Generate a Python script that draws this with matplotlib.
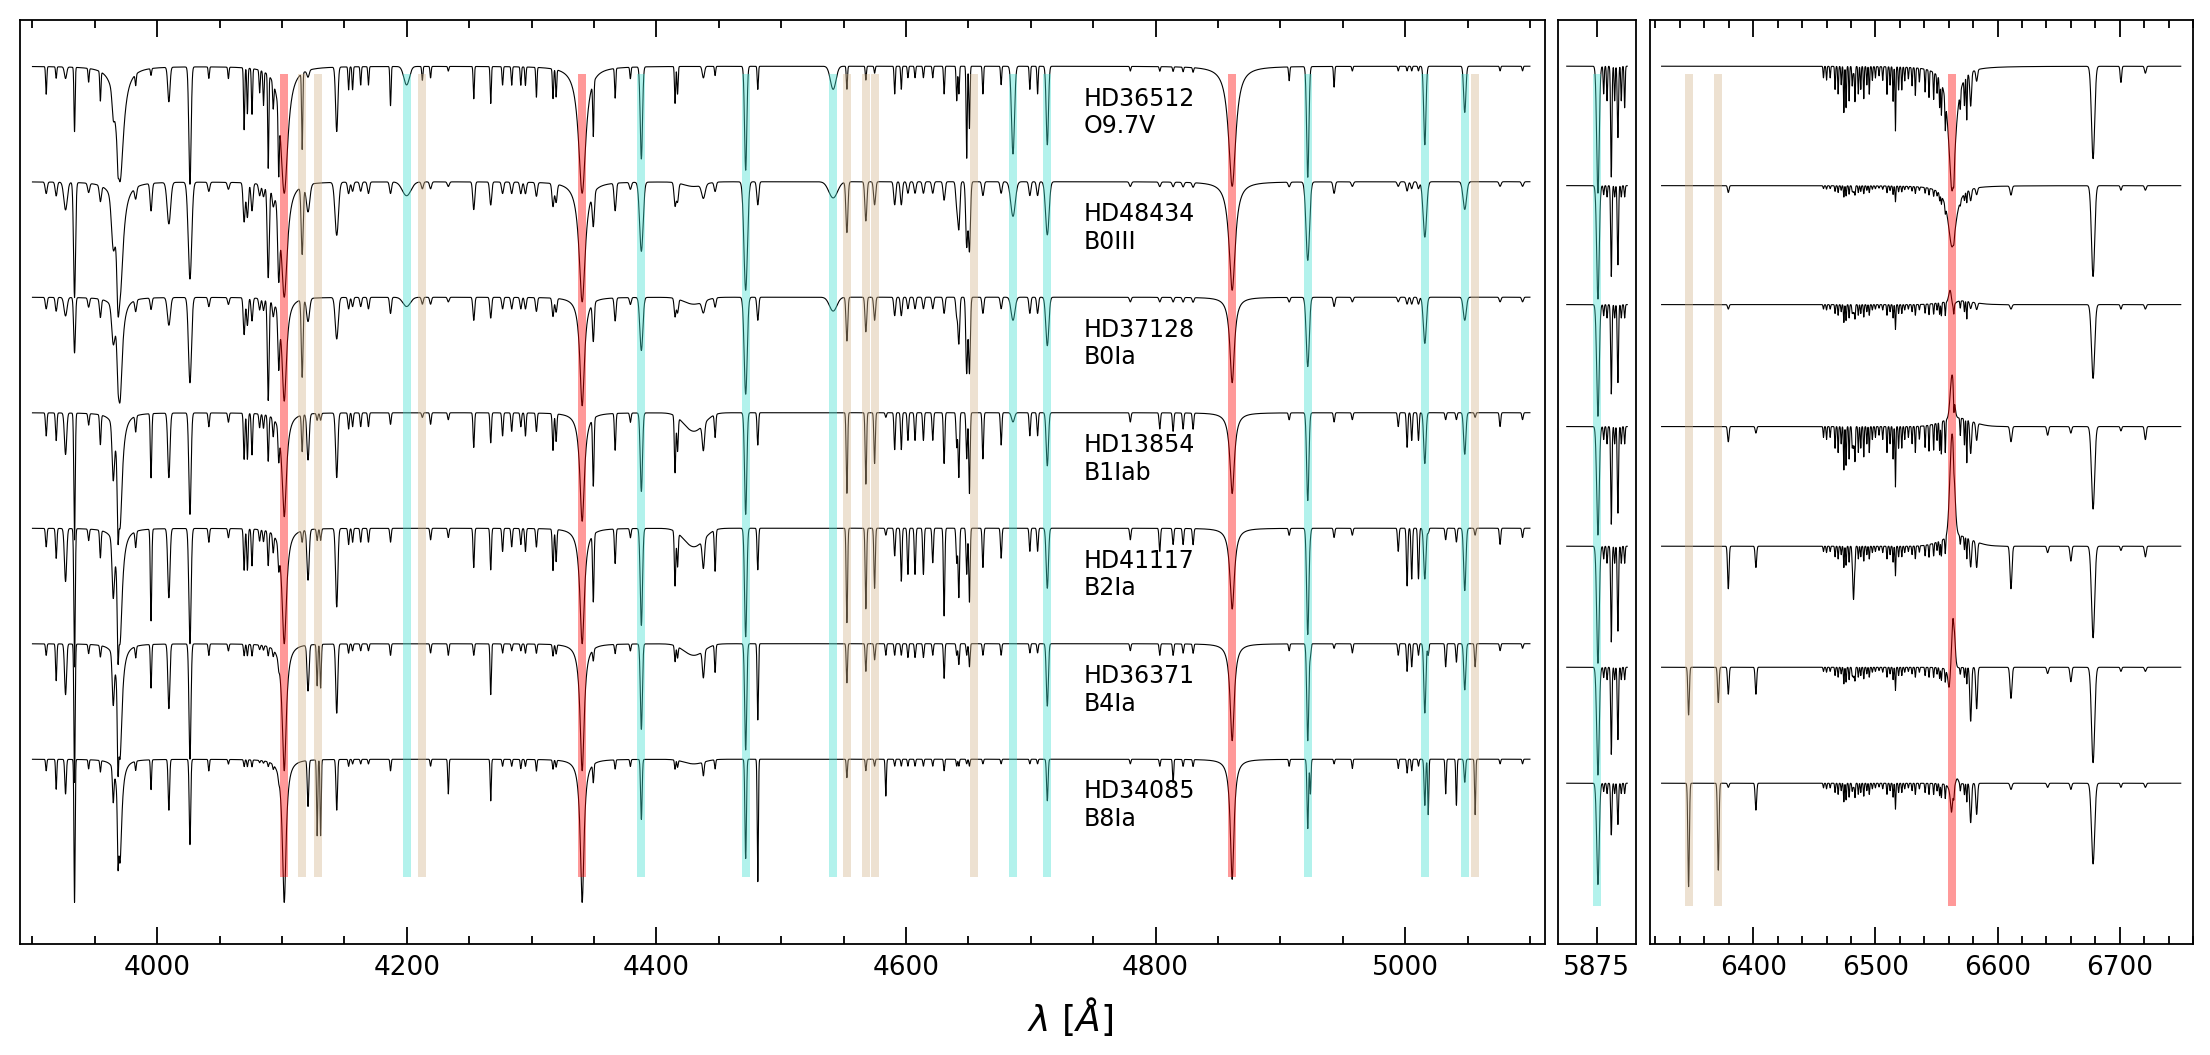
import numpy as np
import matplotlib.pyplot as plt
from matplotlib.ticker import MultipleLocator, FixedLocator, NullLocator

# stars, top to bottom
stars = ['HD36512', 'HD48434', 'HD37128', 'HD13854', 'HD41117', 'HD36371', 'HD34085']
sptypes = ['O9.7V', 'B0III', 'B0Ia', 'B1Iab', 'B2Ia', 'B4Ia', 'B8Ia']
offsets = [3.0, 2.5, 2.0, 1.5, 1.0, 0.5, 0.0]
red_cont = [1.0, 0.983, 0.968, 0.94, 0.922, 0.898, 0.896]

# widths per star (Angstrom)
balmer_w = [3.5, 3.0, 2.2, 2.2, 2.2, 2.0, 1.8]
he_sigma = [0.9, 1.4, 1.2, 0.9, 0.9, 0.8, 0.6]
metal_sigma = [0.45, 0.8, 0.7, 0.55, 0.55, 0.5, 0.45]

# Balmer lines in the blue panel
balmer_wl = [3970.07, 4101.74, 4340.47, 4861.33]
balmer_depth = [
    [0.50, 0.50, 0.45, 0.50, 0.50, 0.50, 0.45],
    [0.55, 0.50, 0.45, 0.45, 0.50, 0.55, 0.62],
    [0.55, 0.52, 0.47, 0.47, 0.50, 0.55, 0.62],
    [0.52, 0.47, 0.37, 0.35, 0.35, 0.42, 0.52],
]

# helium lines in the blue panel
he_wl = [3926.5, 3964.7, 4009.3, 4026.2, 4120.8, 4143.8, 4199.8, 4387.9, 4437.6,
         4471.5, 4541.6, 4685.7, 4713.2, 4921.9, 5015.7, 5047.7]
he_wfac = [1, 1, 1, 1, 1, 1, 2.5, 1, 1, 1, 2.5, 1.3, 1, 1, 1, 1]
he_depth = [
    [0.05, 0.12, 0.08, 0.18, 0.23, 0.22, 0.15],
    [0.10, 0.20, 0.15, 0.24, 0.25, 0.22, 0.15],
    [0.15, 0.18, 0.12, 0.28, 0.30, 0.28, 0.22],
    [0.51, 0.42, 0.37, 0.44, 0.50, 0.50, 0.37],
    [0.03, 0.12, 0.10, 0.20, 0.22, 0.20, 0.20],
    [0.28, 0.23, 0.18, 0.28, 0.34, 0.30, 0.22],
    [0.08, 0.06, 0.04, 0.00, 0.00, 0.00, 0.00],
    [0.40, 0.30, 0.23, 0.34, 0.42, 0.37, 0.26],
    [0.05, 0.06, 0.05, 0.12, 0.13, 0.12, 0.06],
    [0.45, 0.47, 0.42, 0.44, 0.47, 0.46, 0.43],
    [0.10, 0.07, 0.06, 0.00, 0.00, 0.00, 0.00],
    [0.38, 0.15, 0.10, 0.04, 0.00, 0.00, 0.00],
    [0.34, 0.23, 0.21, 0.23, 0.26, 0.27, 0.18],
    [0.48, 0.34, 0.30, 0.38, 0.46, 0.42, 0.30],
    [0.34, 0.24, 0.20, 0.22, 0.22, 0.30, 0.20],
    [0.20, 0.12, 0.10, 0.18, 0.27, 0.20, 0.10],
]

# metal / interstellar lines in the blue panel
metal_wl = [3911.0, 3919.0, 3933.7, 3945.0, 3954.4, 3968.5, 3982.7, 3995.0, 4041.3,
            4057.0, 4069.6, 4072.2, 4075.9, 4082.0, 4085.1, 4088.9, 4092.9, 4097.3,
            4116.1, 4128.1, 4130.9, 4153.3, 4156.5, 4163.0, 4169.2, 4186.9, 4212.4,
            4219.0, 4233.2, 4253.6, 4267.2, 4276.7, 4284.0, 4291.3, 4295.0, 4303.8,
            4317.1, 4319.6, 4349.4, 4366.9, 4379.1, 4414.9, 4416.9, 4447.0, 4481.2,
            4552.6, 4567.8, 4574.8, 4583.8, 4590.9, 4596.2, 4601.5, 4607.2, 4613.9,
            4621.4, 4630.5, 4640.6, 4642.3, 4648.6, 4650.8, 4661.6, 4676.2, 4699.2,
            4705.4, 4779.7, 4803.3, 4814.0, 4822.0, 4830.0, 4907.0, 4924.0, 4943.0,
            4957.6, 4994.4, 5001.5, 5005.2, 5010.6, 5018.4, 5032.4, 5041.0, 5056.0,
            5076.0, 5094.0]
metal_depth = [
    [0.12, 0.05, 0.05, 0.10, 0.08, 0.05, 0.05],
    [0.05, 0.06, 0.06, 0.12, 0.13, 0.16, 0.13],
    [0.28, 0.50, 0.24, 0.55, 0.60, 0.60, 0.62],
    [0.06, 0.04, 0.04, 0.05, 0.05, 0.04, 0.04],
    [0.13, 0.07, 0.08, 0.13, 0.12, 0.05, 0.05],
    [0.10, 0.30, 0.15, 0.35, 0.38, 0.38, 0.30],
    [0.05, 0.05, 0.05, 0.07, 0.07, 0.05, 0.04],
    [0.03, 0.12, 0.05, 0.28, 0.40, 0.19, 0.13],
    [0.05, 0.04, 0.04, 0.06, 0.06, 0.05, 0.05],
    [0.05, 0.03, 0.03, 0.04, 0.04, 0.03, 0.02],
    [0.27, 0.17, 0.16, 0.20, 0.18, 0.05, 0.03],
    [0.20, 0.15, 0.12, 0.20, 0.18, 0.05, 0.03],
    [0.20, 0.12, 0.10, 0.18, 0.16, 0.05, 0.03],
    [0.10, 0.05, 0.05, 0.06, 0.05, 0.02, 0.01],
    [0.15, 0.05, 0.05, 0.06, 0.05, 0.02, 0.01],
    [0.42, 0.40, 0.44, 0.20, 0.15, 0.04, 0.02],
    [0.12, 0.06, 0.06, 0.08, 0.08, 0.03, 0.02],
    [0.34, 0.33, 0.25, 0.14, 0.10, 0.03, 0.02],
    [0.34, 0.30, 0.34, 0.16, 0.05, 0.00, 0.00],
    [0.00, 0.00, 0.00, 0.03, 0.05, 0.18, 0.33],
    [0.00, 0.00, 0.00, 0.03, 0.05, 0.19, 0.33],
    [0.10, 0.05, 0.05, 0.07, 0.07, 0.04, 0.03],
    [0.10, 0.04, 0.04, 0.06, 0.06, 0.03, 0.02],
    [0.08, 0.04, 0.04, 0.06, 0.06, 0.03, 0.02],
    [0.08, 0.05, 0.05, 0.06, 0.06, 0.03, 0.02],
    [0.17, 0.05, 0.07, 0.05, 0.06, 0.05, 0.05],
    [0.06, 0.03, 0.03, 0.02, 0.00, 0.00, 0.00],
    [0.05, 0.03, 0.03, 0.05, 0.05, 0.04, 0.03],
    [0.02, 0.02, 0.02, 0.03, 0.04, 0.05, 0.15],
    [0.14, 0.12, 0.10, 0.15, 0.17, 0.05, 0.00],
    [0.16, 0.10, 0.09, 0.13, 0.18, 0.22, 0.18],
    [0.08, 0.05, 0.05, 0.10, 0.10, 0.04, 0.03],
    [0.08, 0.05, 0.05, 0.08, 0.08, 0.03, 0.03],
    [0.08, 0.05, 0.05, 0.06, 0.07, 0.03, 0.04],
    [0.08, 0.05, 0.05, 0.10, 0.10, 0.04, 0.03],
    [0.13, 0.06, 0.06, 0.08, 0.08, 0.04, 0.05],
    [0.13, 0.10, 0.08, 0.16, 0.18, 0.05, 0.04],
    [0.12, 0.08, 0.06, 0.12, 0.14, 0.04, 0.03],
    [0.25, 0.15, 0.17, 0.30, 0.30, 0.05, 0.08],
    [0.13, 0.12, 0.10, 0.16, 0.15, 0.04, 0.04],
    [0.05, 0.03, 0.03, 0.04, 0.04, 0.03, 0.03],
    [0.16, 0.10, 0.08, 0.25, 0.24, 0.07, 0.04],
    [0.12, 0.08, 0.06, 0.15, 0.15, 0.05, 0.03],
    [0.04, 0.04, 0.04, 0.10, 0.18, 0.12, 0.04],
    [0.10, 0.10, 0.10, 0.14, 0.18, 0.33, 0.53],
    [0.10, 0.22, 0.19, 0.35, 0.41, 0.17, 0.08],
    [0.06, 0.17, 0.15, 0.31, 0.35, 0.12, 0.05],
    [0.03, 0.10, 0.10, 0.22, 0.26, 0.07, 0.03],
    [0.00, 0.00, 0.00, 0.02, 0.03, 0.05, 0.16],
    [0.12, 0.10, 0.08, 0.16, 0.12, 0.05, 0.03],
    [0.10, 0.10, 0.08, 0.16, 0.23, 0.05, 0.03],
    [0.05, 0.05, 0.05, 0.12, 0.20, 0.06, 0.03],
    [0.05, 0.05, 0.05, 0.12, 0.20, 0.06, 0.03],
    [0.05, 0.05, 0.05, 0.12, 0.20, 0.06, 0.03],
    [0.05, 0.05, 0.05, 0.12, 0.15, 0.05, 0.03],
    [0.12, 0.08, 0.07, 0.22, 0.38, 0.15, 0.05],
    [0.15, 0.10, 0.08, 0.15, 0.15, 0.05, 0.03],
    [0.12, 0.20, 0.20, 0.28, 0.30, 0.09, 0.03],
    [0.40, 0.28, 0.33, 0.20, 0.20, 0.05, 0.02],
    [0.27, 0.30, 0.33, 0.35, 0.32, 0.10, 0.03],
    [0.12, 0.06, 0.07, 0.20, 0.17, 0.05, 0.02],
    [0.08, 0.05, 0.05, 0.14, 0.13, 0.05, 0.02],
    [0.10, 0.06, 0.07, 0.10, 0.10, 0.04, 0.02],
    [0.12, 0.06, 0.07, 0.10, 0.10, 0.04, 0.02],
    [0.02, 0.02, 0.02, 0.04, 0.05, 0.03, 0.02],
    [0.02, 0.02, 0.02, 0.07, 0.10, 0.05, 0.03],
    [0.02, 0.02, 0.02, 0.08, 0.07, 0.05, 0.10],
    [0.02, 0.02, 0.02, 0.07, 0.07, 0.04, 0.03],
    [0.02, 0.02, 0.02, 0.07, 0.07, 0.04, 0.03],
    [0.06, 0.02, 0.02, 0.03, 0.03, 0.03, 0.03],
    [0.00, 0.00, 0.00, 0.00, 0.02, 0.05, 0.15],
    [0.09, 0.05, 0.04, 0.04, 0.04, 0.02, 0.02],
    [0.02, 0.02, 0.02, 0.03, 0.03, 0.04, 0.04],
    [0.02, 0.02, 0.02, 0.06, 0.10, 0.05, 0.04],
    [0.02, 0.04, 0.03, 0.15, 0.25, 0.12, 0.06],
    [0.02, 0.03, 0.03, 0.12, 0.22, 0.10, 0.05],
    [0.02, 0.03, 0.03, 0.12, 0.22, 0.05, 0.03],
    [0.00, 0.00, 0.00, 0.00, 0.02, 0.05, 0.24],
    [0.00, 0.00, 0.00, 0.03, 0.05, 0.10, 0.15],
    [0.00, 0.00, 0.00, 0.03, 0.06, 0.08, 0.20],
    [0.00, 0.00, 0.00, 0.02, 0.03, 0.10, 0.24],
    [0.02, 0.02, 0.02, 0.06, 0.07, 0.03, 0.02],
    [0.02, 0.02, 0.02, 0.03, 0.04, 0.02, 0.02],
]

# diffuse interstellar band 4430
dib_wl = 4430.0
dib_sigma = 8.0
dib_depth = [0.0, 0.02, 0.03, 0.08, 0.08, 0.05, 0.02]

# He I 5876 panel: He I, interstellar Na D and telluric lines
mid_wl = [5876.0, 5880.6, 5883.3, 5886.7, 5889.4, 5892.0, 5894.7, 5897.4]
mid_sig = [1.0, 0.4, 0.4, 0.5, 0.4, 0.5, 0.4, 0.4]
mid_depth = [
    [0.55, 0.50, 0.50, 0.50, 0.55, 0.52, 0.49],
    [0.12, 0.04, 0.05, 0.06, 0.06, 0.05, 0.04],
    [0.15, 0.05, 0.06, 0.08, 0.08, 0.06, 0.05],
    [0.48, 0.40, 0.40, 0.45, 0.45, 0.42, 0.25],
    [0.15, 0.05, 0.06, 0.08, 0.08, 0.06, 0.05],
    [0.31, 0.35, 0.35, 0.40, 0.40, 0.35, 0.20],
    [0.15, 0.05, 0.06, 0.08, 0.08, 0.06, 0.05],
    [0.18, 0.05, 0.06, 0.08, 0.08, 0.06, 0.05],
]

# red panel lines
red_wl = [6347.1, 6371.4, 6379.6, 6402.2, 6482.1, 6578.0, 6582.9, 6611.0, 6641.0,
          6660.0, 6678.2, 6701.0, 6721.0]
red_sig = [0.6, 0.6, 0.6, 0.6, 0.6, 0.7, 0.7, 0.8, 0.7, 0.7, 1.3, 0.6, 0.7]
red_depth = [
    [0.00, 0.00, 0.00, 0.00, 0.00, 0.23, 0.50],
    [0.00, 0.00, 0.00, 0.00, 0.00, 0.17, 0.42],
    [0.00, 0.03, 0.02, 0.07, 0.20, 0.13, 0.02],
    [0.00, 0.00, 0.00, 0.03, 0.10, 0.13, 0.13],
    [0.03, 0.03, 0.04, 0.10, 0.25, 0.05, 0.02],
    [0.15, 0.05, 0.03, 0.15, 0.13, 0.26, 0.19],
    [0.05, 0.03, 0.03, 0.08, 0.12, 0.20, 0.15],
    [0.00, 0.04, 0.02, 0.07, 0.20, 0.15, 0.03],
    [0.00, 0.00, 0.00, 0.04, 0.03, 0.03, 0.02],
    [0.00, 0.00, 0.00, 0.03, 0.07, 0.07, 0.03],
    [0.40, 0.40, 0.33, 0.38, 0.43, 0.46, 0.39],
    [0.07, 0.02, 0.02, 0.02, 0.02, 0.02, 0.02],
    [0.03, 0.02, 0.02, 0.06, 0.05, 0.02, 0.02],
]

# telluric water lines near H-alpha
tell_wl = [6457.5, 6460.0, 6463.0, 6467.0, 6469.5, 6472.0, 6474.2, 6476.0, 6478.5,
           6481.0, 6483.3, 6486.0, 6488.0, 6490.5, 6493.0, 6495.0, 6497.5, 6500.0,
           6503.0, 6506.0, 6509.5, 6512.0, 6514.5, 6516.4, 6519.0, 6521.6, 6524.0,
           6527.0, 6530.0, 6532.7, 6536.0, 6540.7, 6543.9, 6547.7, 6550.5, 6552.6,
           6554.0, 6557.2, 6564.2, 6569.5, 6572.9, 6574.8]
tell_str = [0.05, 0.06, 0.05, 0.10, 0.12, 0.08, 0.20, 0.18, 0.15,
            0.08, 0.15, 0.12, 0.10, 0.14, 0.08, 0.12, 0.06, 0.05,
            0.04, 0.06, 0.12, 0.08, 0.15, 0.28, 0.10, 0.10, 0.06,
            0.05, 0.08, 0.12, 0.06, 0.10, 0.12, 0.12, 0.08, 0.13,
            0.15, 0.15, 0.10, 0.08, 0.12, 0.20]
tell_scale = [1.0, 0.25, 0.4, 1.0, 0.5, 0.4, 0.45]

# H-alpha: absorption and emission components per star
ha_wl = 6562.8
ha_abs = [0.54, 0.27, 0.04, 0.0, 0.0, 0.10, 0.14]
ha_abs_shift = [0.0, 0.0, 0.0, 0.0, 0.0, -2.5, -0.5]
ha_abs_w = [3.5, 4.0, 2.0, 2.0, 2.0, 1.2, 1.2]
ha_em = [0.0, 0.0, 0.07, 0.20, 0.48, 0.26, 0.03]
ha_em_shift = [0.0, 0.0, -1.5, 0.0, 0.0, 1.0, 4.0]
ha_em_sigma = [1.0, 1.0, 1.2, 1.5, 1.8, 1.2, 1.2]
ha_wing = [0.0, 0.0, 0.02, 0.04, 0.05, 0.0, 0.0]

# highlighted lines
h_marks = [4101.74, 4340.47, 4861.33, 6562.8]
he_marks = [4199.8, 4387.9, 4471.5, 4541.6, 4685.7, 4713.2, 4921.9, 5015.7, 5047.7, 5875.6]
si_marks = [4116.1, 4128.5, 4212.4, 4552.6, 4567.8, 4574.8, 4654.3, 5056.0, 6347.1, 6371.4]


def gauss(x, c, s):
    return np.exp(-0.5 * ((x - c) / s) ** 2)


def lorentz(x, c, w):
    return w ** 2 / ((x - c) ** 2 + w ** 2)


def blue_spec(x, i):
    f = np.ones_like(x)
    for wl, d in zip(balmer_wl, balmer_depth):
        f *= 1 - d[i] * lorentz(x, wl, balmer_w[i])
    for wl, fac, d in zip(he_wl, he_wfac, he_depth):
        f *= 1 - d[i] * gauss(x, wl, he_sigma[i] * fac)
    for wl, d in zip(metal_wl, metal_depth):
        f *= 1 - d[i] * gauss(x, wl, metal_sigma[i])
    f *= 1 - dib_depth[i] * gauss(x, dib_wl, dib_sigma)
    return f


def mid_spec(x, i):
    f = np.ones_like(x)
    for wl, s, d in zip(mid_wl, mid_sig, mid_depth):
        f *= 1 - d[i] * gauss(x, wl, s)
    return f


def red_spec(x, i):
    f = np.ones_like(x)
    for wl, s, d in zip(red_wl, red_sig, red_depth):
        f *= 1 - d[i] * gauss(x, wl, s)
    for wl, st in zip(tell_wl, tell_str):
        f *= 1 - tell_scale[i] * st * gauss(x, wl, 0.35)
    f *= 1 - ha_abs[i] * lorentz(x, ha_wl + ha_abs_shift[i], ha_abs_w[i])
    f += ha_em[i] * gauss(x, ha_wl + ha_em_shift[i], ha_em_sigma[i])
    f += ha_wing[i] * gauss(x, ha_wl + 4, 12)
    return f


fig = plt.figure(figsize=(22.1, 10.55), dpi=100)
y0, h = 111 / 1055, 924 / 1055
ax1 = fig.add_axes([20 / 2210, y0, 1525 / 2210, h])
ax2 = fig.add_axes([1558 / 2210, y0, 78 / 2210, h])
ax3 = fig.add_axes([1650 / 2210, y0, 543 / 2210, h])

x1 = np.arange(3900, 5100, 0.08)
x2 = np.arange(5851, 5899.5, 0.08)
x3 = np.arange(6325, 6750, 0.08)

for i in range(len(stars)):
    ax1.plot(x1, blue_spec(x1, i) + offsets[i], color='k', lw=0.8, zorder=2)
    ax2.plot(x2, red_cont[i] * mid_spec(x2, i) + offsets[i], color='k', lw=0.8, zorder=2)
    ax3.plot(x3, red_cont[i] * red_spec(x3, i) + offsets[i], color='k', lw=0.8, zorder=2)
    ax1.text(4742, offsets[i] + 0.8, stars[i] + '\n' + sptypes[i],
             fontsize=17, ha='left', va='center')

# shaded line markers
band_top = 3.965
for ax, bottom in [(ax1, 0.49), (ax2, 0.365), (ax3, 0.365)]:
    lo, hi = ax.get_xlim()
    for marks, col in [(h_marks, 'red'), (he_marks, 'turquoise'), (si_marks, 'tan')]:
        for wl in marks:
            ax.fill_between([wl - 3.2, wl + 3.2], bottom, band_top,
                            color=col, alpha=0.4, lw=0, zorder=3)

ax1.set_xlim(3890, 5112)
ax2.set_xlim(5844, 5906.5)
ax3.set_xlim(6315.5, 6760)

ax1.xaxis.set_major_locator(MultipleLocator(200))
ax1.xaxis.set_minor_locator(MultipleLocator(50))
ax2.xaxis.set_major_locator(FixedLocator([5875]))
ax2.xaxis.set_minor_locator(NullLocator())
ax3.xaxis.set_major_locator(MultipleLocator(100))
ax3.xaxis.set_minor_locator(MultipleLocator(20))

for ax in [ax1, ax2, ax3]:
    ax.set_ylim(0.2, 4.2)
    ax.set_yticks([])
    ax.tick_params(axis='x', which='both', direction='in', top=True, bottom=True,
                   labelsize=19, pad=8, width=1.3)
    ax.tick_params(axis='x', which='major', length=12)
    ax.tick_params(axis='x', which='minor', length=6)
    for sp in ax.spines.values():
        sp.set_linewidth(1.3)

fig.text(1070 / 2210, 1 - 1017 / 1055, r'$\lambda\ [\AA]$', fontsize=26,
         ha='center', va='center')

fig.savefig('out.png', dpi=100)
